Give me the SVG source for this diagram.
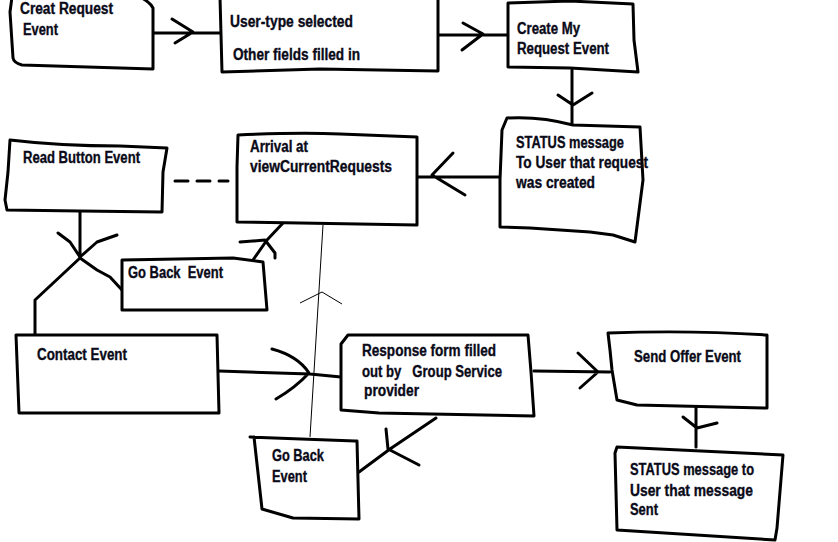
<svg xmlns="http://www.w3.org/2000/svg" width="838" height="542" viewBox="0 0 838 542">
<style>
.b{fill:#fff;stroke:#000;stroke-width:3;stroke-linejoin:round;stroke-linecap:round}
.c{fill:none;stroke:#000;stroke-width:3;stroke-linejoin:round;stroke-linecap:round}
.t{fill:none;stroke:#000;stroke-width:1}
text{font-family:"Liberation Sans Narrow","Liberation Sans",Arial,sans-serif;font-weight:bold;font-size:16px;fill:#0a0a18;stroke:#0a0a18;stroke-width:0.35;white-space:pre}
</style>
<rect width="838" height="542" fill="#fff"/>
<g id="connectors">
<path class="c" d="M153,33 L220,33 M172,19 L193,32 L175,43"/>
<path class="c" d="M438,35 L508,35 M463,23 L483,34 L462,50"/>
<path class="c" d="M572,70 L572,125 M558,95 L573,105 L592,93"/>
<path class="c" d="M407,177 L500,177 M453,153 L432,175 L465,195"/>
<path class="c" d="M175,181 L228,181" stroke-dasharray="13 9" stroke-linecap="butt"/>
<path class="c" d="M80,212 L80,257 M58,233 L70,242 L80,257 L97,242 L117,235"/>
<path class="c" d="M80,258 L97,270 L110,277 L122,290"/>
<path class="c" d="M80,258 L35,300 L35,335"/>
<path class="c" d="M283,223 L267,240 L253,260 M240,242 L265,240 L275,253 L275,258"/>
<path class="t" d="M323,225 L310,437 M300,303 L322,292 L342,304"/>
<path class="c" d="M219,371 L310,374 L341,377 M272,349 Q298,356 309,373 Q295,388 276,399"/>
<path class="c" d="M436,418 L390,449 L359,472 L350,477 M386,429 L388,449 L419,465"/>
<path class="c" d="M534,371 L610,372 M578,353 L598,372 L580,388"/>
<path class="c" d="M696,408 L696,447 M683,417 L697,428 L717,423"/>
</g>
<g id="creat-request">
<path class="b" d="M12,-3 L10,12 L13,58 Q14,63 22,65 L153,69 L153,8 Q150,2 140,-3"/>
<text x="20" y="14" textLength="93" lengthAdjust="spacingAndGlyphs">Creat Request</text>
<text x="23" y="35" textLength="35" lengthAdjust="spacingAndGlyphs">Event</text>
</g>
<g id="user-type">
<path class="b" d="M220,-3 L222,72 L320,69 L438,71 L438,-3"/>
<text x="230" y="27" textLength="123" lengthAdjust="spacingAndGlyphs">User-type selected</text>
<text x="233" y="60" textLength="127" lengthAdjust="spacingAndGlyphs">Other fields filled in</text>
</g>
<g id="create-my-request">
<path class="b" d="M508,3 L570,1 L633,4 L634,40 L638,72 L570,68 L508,67 Z"/>
<text x="517" y="34" textLength="63" lengthAdjust="spacingAndGlyphs">Create My</text>
<text x="517" y="54" textLength="92" lengthAdjust="spacingAndGlyphs">Request Event</text>
</g>
<g id="status-created">
<path class="b" d="M507,118 Q540,116 573,125 L640,127 L643,180 L635,242 L613,235 L590,232 L530,228 L500,227 L500,180 L502,130 Z"/>
<text x="516" y="148" textLength="108" lengthAdjust="spacingAndGlyphs">STATUS message</text>
<text x="516" y="168" textLength="132" lengthAdjust="spacingAndGlyphs">To User that request</text>
<text x="516" y="188" textLength="79" lengthAdjust="spacingAndGlyphs">was created</text>
</g>
<g id="arrival">
<path class="b" d="M238,135 Q300,132 340,134 L417,137 L417,225 L300,223 L237,222 L237,167 Z"/>
<text x="250" y="152" textLength="58" lengthAdjust="spacingAndGlyphs">Arrival at</text>
<text x="250" y="172" textLength="142" lengthAdjust="spacingAndGlyphs">viewCurrentRequests</text>
</g>
<g id="read-button">
<path class="b" d="M10,140 Q60,146 120,146 L167,148 L163,172 L162,212 L80,211 L7,210 L5,200 L8,172 Z"/>
<text x="23" y="163" textLength="117" lengthAdjust="spacingAndGlyphs">Read Button Event</text>
</g>
<g id="go-back-top">
<path class="b" d="M122,260 L233,258 L263,262 L267,310 L122,310 Z"/>
<text x="128" y="278" textLength="95" lengthAdjust="spacingAndGlyphs">Go Back  Event</text>
</g>
<g id="contact">
<path class="b" d="M16,335 L217,335 L219,413 L19,413 Z"/>
<text x="37" y="360" textLength="90" lengthAdjust="spacingAndGlyphs">Contact Event</text>
</g>
<g id="response-form">
<path class="b" d="M341,344 L348,335 L528,335 L531,372 L534,416 L379,413 L341,410 Z"/>
<text x="362" y="356" textLength="134" lengthAdjust="spacingAndGlyphs">Response form filled</text>
<text x="362" y="377" textLength="140" lengthAdjust="spacingAndGlyphs">out by   Group Service</text>
<text x="364" y="396" textLength="55" lengthAdjust="spacingAndGlyphs">provider</text>
</g>
<g id="go-back-bottom">
<path class="b" d="M250,437 L355,441 L357,441 L359,519 L293,518 L262,509 L254,437"/>
<text x="272" y="461" textLength="52" lengthAdjust="spacingAndGlyphs">Go Back</text>
<text x="272" y="482" textLength="35" lengthAdjust="spacingAndGlyphs">Event</text>
</g>
<g id="send-offer">
<path class="b" d="M608,333 Q690,330 767,335 L767,408 L637,405 L617,400 L612,370 L610,350 Z"/>
<text x="634" y="362" textLength="107" lengthAdjust="spacingAndGlyphs">Send Offer Event</text>
</g>
<g id="status-sent">
<path class="b" d="M617,447 L783,455 L777,528 L775,540 L617,530 L615,453 Z"/>
<text x="630" y="475" textLength="124" lengthAdjust="spacingAndGlyphs">STATUS message to</text>
<text x="630" y="496" textLength="123" lengthAdjust="spacingAndGlyphs">User that message</text>
<text x="630" y="515" textLength="28" lengthAdjust="spacingAndGlyphs">Sent</text>
</g>
</svg>
